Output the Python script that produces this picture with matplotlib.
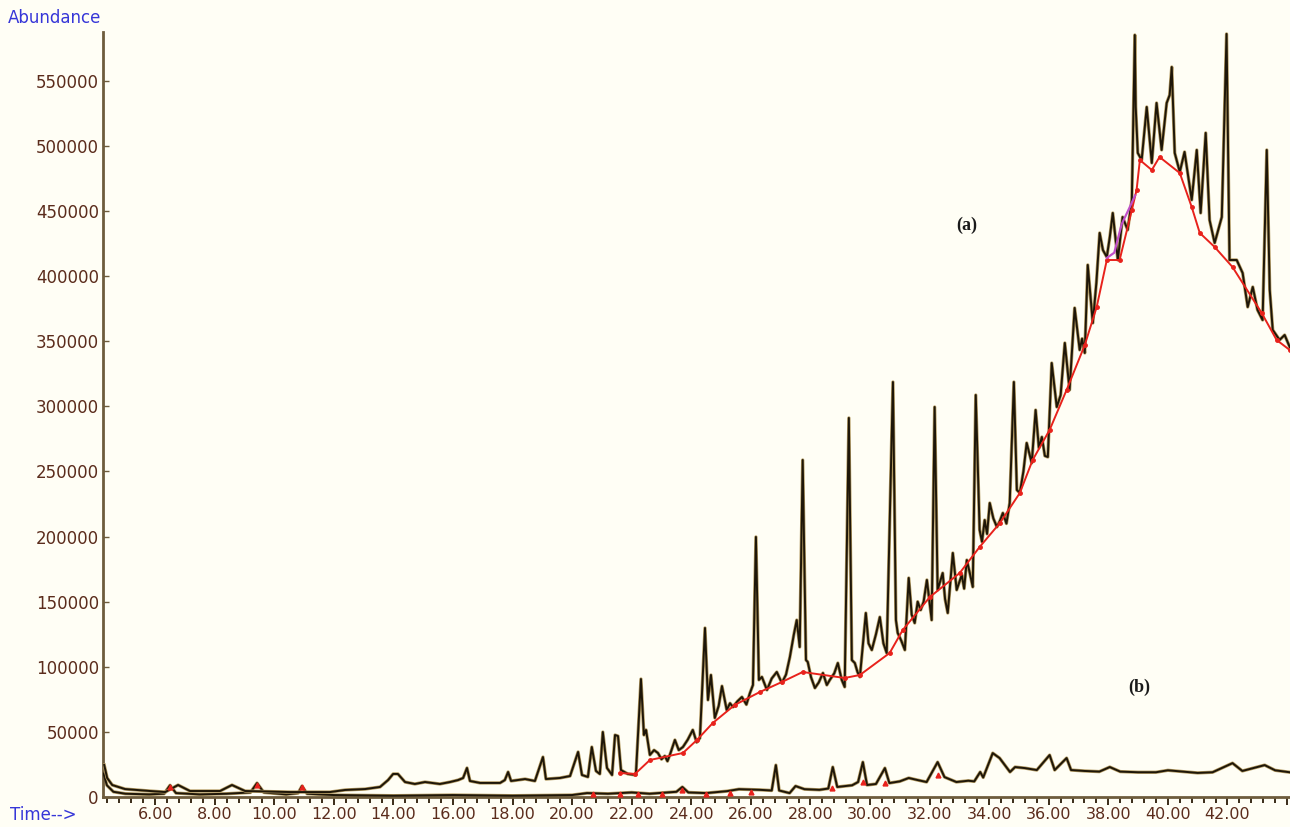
import matplotlib
matplotlib.use("Agg")
import matplotlib.pyplot as plt
from matplotlib.ticker import MultipleLocator, FixedLocator, FuncFormatter

# --- chromatogram (a): retention time (min) / abundance ---
a_time = [4.29, 4.39, 4.56, 4.99, 5.83, 6.34, 6.77, 7.17, 8.18, 8.58, 9.02, 10.53, 11.87,
          12.38, 13.05, 13.55, 13.82, 13.99, 14.15, 14.39, 14.72, 15.06, 15.56, 15.90, 16.17,
          16.34, 16.47, 16.57, 16.91, 17.58, 17.74, 17.85, 17.95, 18.42, 18.75, 19.02, 19.12,
          19.59, 19.93, 20.20, 20.33, 20.53, 20.66, 20.80, 20.93, 21.03, 21.17, 21.34, 21.44,
          21.54, 21.64, 21.87, 22.14, 22.31, 22.41, 22.48, 22.61, 22.75, 22.88, 23.00, 23.11,
          23.20, 23.28, 23.45, 23.58, 23.72, 23.88, 24.05, 24.18, 24.29, 24.46, 24.56, 24.66,
          24.79, 24.92, 25.03, 25.19, 25.30, 25.40, 25.55, 25.70, 25.85, 25.97, 26.07, 26.17,
          26.27, 26.37, 26.54, 26.70, 26.87, 27.04, 27.18, 27.31, 27.44, 27.54, 27.64, 27.74,
          27.85, 27.91, 28.02, 28.15, 28.28, 28.42, 28.55, 28.65, 28.80, 28.92, 29.05, 29.15,
          29.29, 29.39, 29.49, 29.58, 29.66, 29.86, 29.95, 30.06, 30.20, 30.33, 30.45, 30.56,
          30.77, 30.87, 30.93, 31.05, 31.17, 31.30, 31.40, 31.50, 31.60, 31.70, 31.80, 31.91,
          32.07, 32.17, 32.27, 32.44, 32.52, 32.61, 32.78, 32.91, 33.00, 33.08, 33.16, 33.25,
          33.35, 33.45, 33.55, 33.68, 33.76, 33.85, 33.93, 34.02, 34.14, 34.26, 34.36, 34.46,
          34.58, 34.69, 34.83, 34.93, 35.03, 35.15, 35.26, 35.43, 35.56, 35.67, 35.77, 35.87,
          35.97, 36.10, 36.27, 36.40, 36.54, 36.70, 36.87, 37.04, 37.12, 37.21, 37.31, 37.48,
          37.60, 37.71, 37.82, 37.95, 38.05, 38.15, 38.32, 38.48, 38.65, 38.79, 38.89, 38.92,
          38.99, 39.12, 39.29, 39.46, 39.62, 39.79, 39.96, 40.06, 40.13, 40.23, 40.40, 40.56,
          40.80, 40.97, 41.10, 41.27, 41.40, 41.57, 41.81, 41.97, 42.07, 42.31, 42.51, 42.68,
          42.85, 43.01, 43.18, 43.32, 43.42, 43.52, 43.75, 43.92, 44.09]
a_abund = [24600, 14600, 9200, 6100, 4600, 3800, 9200, 4600, 4600, 9200, 4600, 3800, 3800,
           5400, 6100, 7700, 13000, 17700, 17700, 11500, 10000, 11500, 10000, 11500, 13000,
           14600, 22300, 12300, 10800, 10800, 13000, 19200, 12300, 13800, 12300, 30700, 13800,
           14600, 16100, 34600, 16900, 15400, 38400, 20000, 17700, 49900, 22300, 16900, 47600,
           46800, 20700, 17700, 16900, 90600, 47600, 51500, 32300, 36000, 33800, 29000, 31500,
           27500, 32300, 43800, 36000, 38400, 44000, 51500, 42000, 45300, 129800, 74500, 93700,
           60700, 70000, 85200, 66800, 72000, 69100, 73500, 76800, 71000, 79900, 86000, 199700,
           89900, 92200, 82200, 91000, 96000, 87600, 94000, 107500, 124400, 135900, 115200, 258800,
           105200, 103700, 92000, 83700, 88000, 95200, 86000, 89900, 95000, 102900, 90000, 84500,
           291100, 105200, 102900, 96000, 92200, 141300, 118000, 112900, 125000, 138200, 118000, 110600,
           318700, 135900, 126000, 120000, 112900, 168200, 140000, 133600, 150000, 143600, 150000, 166700,
           135900, 299500, 159000, 172000, 152000, 141300, 187400, 159000, 165000, 170500, 160000, 182000,
           172000, 161300, 308700, 205100, 196000, 212700, 202000, 225800, 214000, 207400, 212000, 218100,
           210000, 225800, 318700, 235800, 233500, 250000, 271900, 256500, 297200, 268000, 276500, 262000,
           261100, 333300, 299500, 308700, 348700, 312600, 375600, 343300, 352000, 341000, 408600, 364000,
           395000, 433200, 420000, 414700, 430000, 448500, 412400, 445400, 435500, 458500, 585200, 529900,
           494600, 489200, 529900, 486900, 533000, 496900, 533000, 539100, 560600, 494600, 480000, 495400,
           458500, 496900, 448500, 510000, 443100, 425500, 445400, 586000, 412400, 412400, 402400, 376300,
           391700, 374000, 366300, 496900, 389400, 358700, 351000, 354800, 345600]

# integration baseline drawn under (a)
base_time = [21.60, 22.11, 22.61, 23.72, 24.19, 24.72, 25.46, 26.30, 27.04, 27.74, 29.15, 29.66,
             30.66, 31.10, 32.01, 33.01, 33.68, 34.36, 35.03, 35.46, 36.03, 36.60, 37.21, 37.61,
             37.95, 38.38, 38.79, 38.95, 39.06, 39.46, 39.72, 40.40, 40.80, 41.07, 41.57, 42.17,
             43.15, 43.65, 44.09]
base_abund = [18400, 17700, 28400, 33800, 43800, 56800, 70700, 80600, 88300, 96000, 91400, 93700,
              110600, 128300, 153600, 172000, 192000, 210400, 233500, 258800, 281900, 312600, 347100, 376300,
              412400, 412400, 450800, 466200, 489200, 481500, 491500, 479200, 453100, 433200, 422400, 407000,
              371700, 351000, 343300]

# purple integration segment
purple_time = [37.95, 38.2, 38.45, 38.7, 38.9]
purple_abund = [414000, 418000, 440000, 452000, 462000]

# --- chromatogram (b) ---
b_time = [4.27, 4.38, 4.60, 5.00, 5.80, 6.30, 6.50, 6.70, 7.50, 8.40, 9.20, 9.42, 9.65, 10.40,
          10.80, 10.93, 11.10, 12.00, 14.00, 16.00, 18.00, 20.00, 20.50, 21.20, 22.00, 22.60,
          23.50, 23.70, 23.90, 24.50, 25.20, 25.60, 26.30, 26.70, 26.84, 26.95, 27.30, 27.50,
          27.80, 28.30, 28.60, 28.75, 28.90, 29.40, 29.60, 29.76, 29.90, 30.20, 30.50, 30.65,
          31.00, 31.30, 31.60, 31.90, 32.27, 32.50, 32.90, 33.30, 33.50, 33.70, 33.80, 34.12,
          34.35, 34.70, 34.87, 35.20, 35.60, 36.03, 36.20, 36.60, 36.75, 37.20, 37.70, 38.05,
          38.40, 39.00, 39.60, 40.00, 40.50, 41.00, 41.50, 42.17, 42.50, 43.25, 43.60, 44.09]
b_abund = [18000, 9000, 4000, 2500, 2000, 2500, 9000, 3000, 2000, 2500, 3500, 10700, 3500, 2000,
           3000, 8400, 2500, 1500, 1000, 1500, 1000, 1500, 3000, 2500, 3500, 2500,
           4000, 7700, 3500, 3000, 4500, 6000, 5500, 5000, 24500, 5000, 3000, 8400,
           6000, 5500, 6500, 23000, 7700, 9000, 11500, 26800, 9200, 10000, 22200, 10700,
           12000, 14600, 13000, 11500, 26800, 15300, 11500, 12500, 12000, 19200, 15000, 33700,
           29900, 19200, 23000, 22200, 20700, 32200, 20700, 29900, 20700, 20000, 19500, 23000,
           19500, 19000, 19000, 20500, 19500, 18500, 19000, 26000, 20000, 24500, 20500, 19000]

# red integration marks on (b)
mark_time = [6.5, 9.42, 10.93, 20.7, 21.6, 22.2, 23.0, 23.7, 24.5, 25.3, 26.0, 28.72, 29.76, 30.5, 32.27]
mark_abund = [8000, 9500, 7500, 2500, 2000, 2500, 2000, 5000, 2500, 3000, 3500, 7000, 11500, 10700, 17000]

x_major = [6, 8, 10, 12, 14, 16, 18, 20, 22, 24, 26, 28, 30, 32, 34, 36, 38, 40, 42, 44]
y_major = [0, 50000, 100000, 150000, 200000, 250000, 300000, 350000, 400000, 450000, 500000, 550000]

bg = '#fffef5'
fig = plt.figure(figsize=(12.9, 8.27), dpi=100, facecolor=bg)
ax = fig.add_axes([103 / 1290, 30 / 827, 1187 / 1290, 765 / 827], facecolor=bg)

# traces: tan halo under a dark core, like the scanned plot
ax.plot(b_time, b_abund, color='#b39a62', lw=2.4, zorder=2)
ax.plot(b_time, b_abund, color='#1e1608', lw=1.4, zorder=3)
ax.plot(a_time, a_abund, color='#b39a62', lw=2.4, zorder=4)
ax.plot(a_time, a_abund, color='#1e1608', lw=1.4, zorder=5)
ax.plot(base_time, base_abund, color='#e8221c', lw=1.4, marker='o', ms=2.5, zorder=6)
ax.plot(purple_time, purple_abund, color='#c050c8', lw=1.6, zorder=6)
ax.plot(mark_time, mark_abund, ls='none', marker='^', ms=3.5, color='#e8221c', zorder=6)

ax.set_xlim(4.25, 44.1)
ax.set_ylim(0, 587500)

for side in ['top', 'right']:
    ax.spines[side].set_visible(False)
for side in ['left', 'bottom']:
    ax.spines[side].set_color('#6e5c3c')
    ax.spines[side].set_linewidth(2)

ax.xaxis.set_major_locator(FixedLocator(x_major))
ax.xaxis.set_minor_locator(MultipleLocator(0.4))
ax.xaxis.set_major_formatter(FuncFormatter(lambda v, p: '' if v > 43 else f'{v:.2f}'))
ax.yaxis.set_major_locator(FixedLocator(y_major))
ax.yaxis.set_major_formatter(FuncFormatter(lambda v, p: f'{int(v)}'))

tick_col = '#5b2c1c'
ax.tick_params(axis='x', which='major', direction='out', length=6, width=1.4, color='#3a2c18',
               labelsize=11.5, labelcolor=tick_col, pad=1)
ax.tick_params(axis='x', which='minor', direction='out', length=4, width=1.4, color='#3a2c18')
ax.tick_params(axis='y', which='major', direction='in', length=4, width=1, color='#6e5c3c',
               labelsize=12, labelcolor=tick_col, pad=3)
for lab in ax.get_xticklabels() + ax.get_yticklabels():
    lab.set_family('DejaVu Sans')

fig.text(8 / 1290, 1 - 18 / 827, 'Abundance', color='#3636d8', fontsize=12,
         family='DejaVu Sans', va='center', ha='left')
fig.text(10 / 1290, 1 - 815 / 827, 'Time-->', color='#3636d8', fontsize=12,
         family='DejaVu Sans', va='center', ha='left')

ax.text(33.25, 439000, '(a)', fontsize=13, fontweight='bold', family='Liberation Serif',
        ha='center', va='center', color='#1a1a1a')
ax.text(39.05, 84500, '(b)', fontsize=13, fontweight='bold', family='Liberation Serif',
        ha='center', va='center', color='#1a1a1a')

fig.savefig('out.png', dpi=100, facecolor=bg)
